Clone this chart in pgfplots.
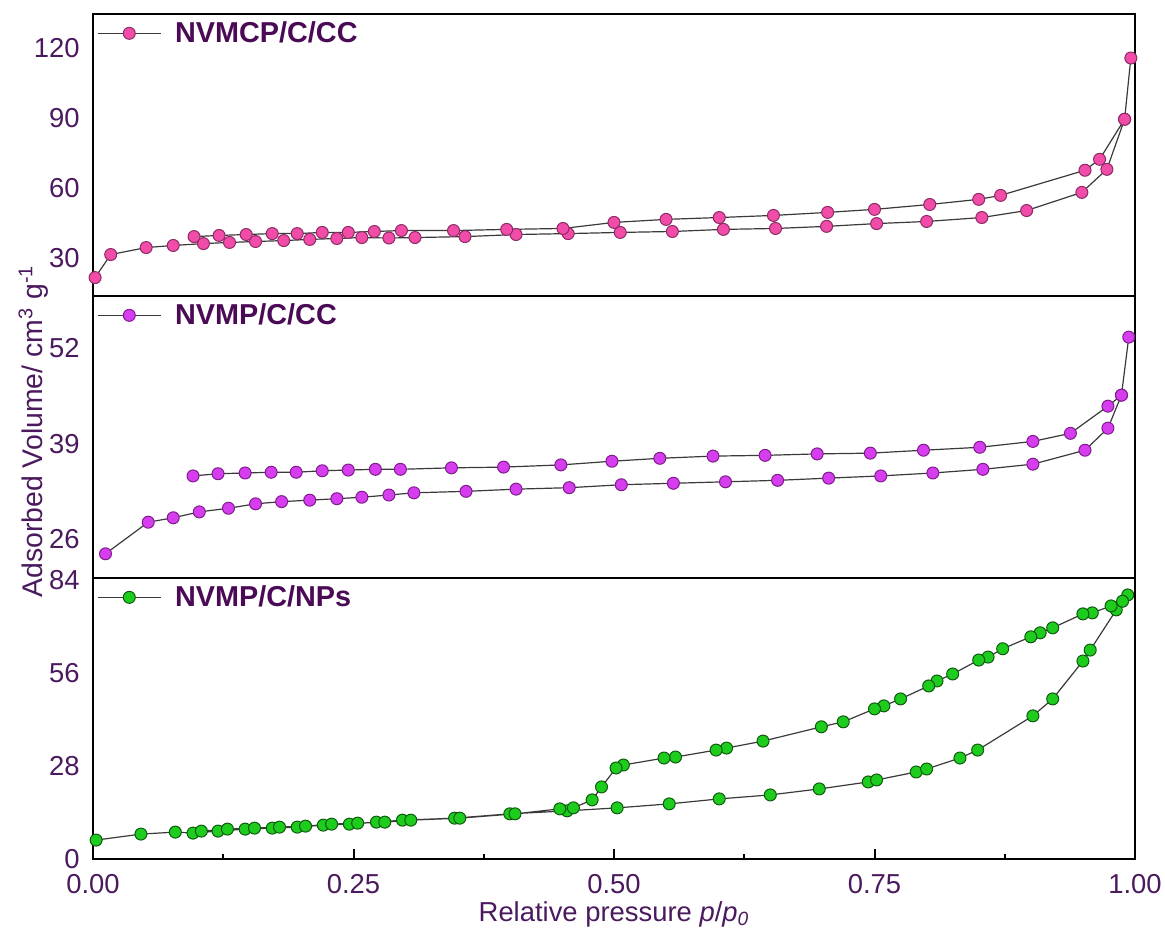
\documentclass[border=0pt]{standalone}
\usepackage{fontspec}
\setmainfont{Liberation Sans}
\usepackage{pgfplots}
\pgfplotsset{compat=1.18}
\definecolor{txt}{HTML}{4B1A5E}
\definecolor{lgd}{HTML}{4A0A56}
\definecolor{pinkf}{HTML}{F04CA8}
\definecolor{pinke}{HTML}{8E2A66}
\definecolor{magf}{HTML}{D53DEF}
\definecolor{mage}{HTML}{7F1E8A}
\definecolor{grnf}{HTML}{1ECC1E}
\definecolor{grne}{HTML}{0E5A0E}
\definecolor{ln}{HTML}{3A3A3A}
\pgfplotsset{
 panel/.style={
  scale only axis, width=521pt, xmin=0, xmax=1,
  axis line style={line width=1pt, black},
  clip=false,
  ytick style={draw=none},
  yticklabel style={font=\fontsize{13.7}{15}\selectfont, text=txt, anchor=east, inner sep=0pt, xshift=-6.5pt},
  /pgf/number format/assume math mode=true,
  legend style={at={(axis description cs:0,1)}, anchor=north west, xshift=2pt, yshift=-1.5pt, draw=none, fill=none,
    font=\fontsize{14.4}{16}\selectfont\bfseries, text=lgd, inner sep=0pt,
    /tikz/every odd column/.append style={column sep=5pt}},
  legend image code/.code={\draw[mark repeat=2,mark phase=2] plot coordinates {(0cm,0cm)(0.55cm,0cm)(1.1cm,0cm)};},
 },
 iso/.style={line width=0.6pt, color=ln, mark=*, mark size=3pt},
}
\begin{document}
\begin{tikzpicture}
\path[use as bounding box] (-46.5pt,-34.5pt) rectangle (536pt,429.5pt);
% ---------- top panel ----------
\begin{axis}[panel, at={(0pt,281.5pt)}, anchor=south west, height=141pt,
  ymin=13.5, ymax=134.6, ytick={30,60,90,120}, xtick=\empty]
\addplot[iso, mark options={fill=pinkf, draw=pinke, line width=0.5pt}] coordinates {
(0.002,21.4)(0.017,31.3)(0.051,34.3)(0.077,35.2)(0.106,36.0)(0.131,36.5)(0.156,36.9)
(0.183,37.3)(0.208,37.8)(0.234,38.2)(0.258,38.6)(0.284,38.4)(0.309,38.6)(0.357,39.0)
(0.406,39.9)(0.456,40.3)(0.506,40.8)(0.556,41.2)(0.605,42.1)(0.655,42.5)(0.704,43.4)
(0.752,44.6)(0.800,45.5)(0.853,47.2)(0.896,50.2)(0.949,58.0)(0.973,67.9)(0.990,89.4)
(0.996,115.7)(0.990,89.4)(0.966,72.2)(0.952,67.5)(0.871,56.7)(0.850,55.0)(0.803,52.8)(0.750,50.7)
(0.705,49.4)(0.653,48.1)(0.601,47.2)(0.550,46.4)(0.500,45.1)(0.451,42.5)(0.397,42.1)
(0.346,41.6)(0.296,41.6)(0.270,41.2)(0.245,40.8)(0.220,40.8)(0.196,40.3)(0.172,40.3)
(0.147,39.9)(0.121,39.5)(0.097,39.0)};
\addlegendentry{NVMCP/C/CC}
\end{axis}
% ---------- middle panel ----------
\begin{axis}[panel, at={(0pt,140.5pt)}, anchor=south west, height=141pt,
  ymin=20.7, ymax=59.1, ytick={26,39,52}, xtick=\empty,
  ylabel={Adsorbed Volume/ cm\textsuperscript{3} g\textsuperscript{-1}},
  ylabel style={at={(axis description cs:-0.072,0.52)}, anchor=north, inner sep=0pt,
    font=\fontsize{14.2}{16}\selectfont, text=txt}]
\addplot[iso, mark options={fill=magf, draw=mage, line width=0.5pt}] coordinates {
(0.012,24.0)(0.053,28.3)(0.077,28.9)(0.102,29.7)(0.130,30.2)(0.156,30.8)(0.181,31.1)
(0.208,31.3)(0.234,31.5)(0.258,31.7)(0.284,32.0)(0.308,32.3)(0.358,32.5)(0.406,32.8)
(0.457,33.0)(0.507,33.4)(0.557,33.6)(0.607,33.8)(0.657,34.0)(0.706,34.3)(0.756,34.6)
(0.806,35.0)(0.854,35.5)(0.902,36.2)(0.952,38.1)(0.974,41.1)(0.987,45.6)(0.994,53.5)
(0.987,45.6)(0.974,44.1)(0.938,40.4)(0.902,39.3)(0.851,38.5)(0.797,38.1)(0.746,37.7)(0.695,37.6)
(0.645,37.4)(0.595,37.3)(0.544,37.0)(0.498,36.6)(0.449,36.1)(0.394,35.8)(0.344,35.7)
(0.295,35.5)(0.271,35.5)(0.245,35.4)(0.220,35.3)(0.195,35.1)(0.171,35.1)(0.146,35.0)
(0.120,34.9)(0.096,34.6)};
\addlegendentry{NVMP/C/CC}
\end{axis}
% ---------- bottom panel ----------
\begin{axis}[panel, at={(0pt,0pt)}, anchor=south west, height=140.5pt,
  ymin=0, ymax=84.6, ytick={0,28,56,84},
  xtick={0,0.25,0.5,0.75,1}, minor x tick num=1, xtick pos=lower, tick align=inside,
  major tick length=5pt, minor tick length=2.5pt,
  xtick style={line width=1pt, black},
  xticklabel style={font=\fontsize{13.7}{15}\selectfont, text=txt, anchor=north, inner sep=0pt, yshift=-7.5pt,
    /pgf/number format/.cd, fixed, fixed zerofill, precision=2},
  xlabel={Relative pressure \textit{p}/\textit{p}\textsubscript{\textit{0}}},
  xlabel style={at={(axis description cs:0.5,0)}, anchor=north, yshift=-21pt, inner sep=0pt,
    font=\fontsize{13.7}{15}\selectfont, text=txt}]
\addplot[iso, mark options={fill=grnf, draw=grne, line width=0.5pt}] coordinates {
(0.003,5.7)(0.046,7.5)(0.079,8.1)(0.096,7.8)(0.120,8.4)(0.146,9.0)(0.172,9.3)(0.196,9.6)
(0.221,10.2)(0.246,10.5)(0.272,11.1)(0.297,11.7)(0.347,12.3)(0.400,13.6)(0.455,14.5)
(0.503,15.4)(0.553,16.6)(0.601,18.1)(0.650,19.3)(0.697,21.1)(0.744,23.2)(0.752,23.8)
(0.790,26.2)(0.800,27.1)(0.832,30.4)(0.849,32.8)(0.902,43.1)(0.921,48.2)(0.950,59.6)
(0.957,62.9)(0.982,75.0)(0.993,79.5)(0.988,77.6)(0.977,76.2)(0.959,74.1)(0.950,73.8)
(0.921,69.6)(0.909,68.1)(0.900,66.9)(0.873,63.3)(0.859,60.8)(0.850,59.9)(0.825,55.7)
(0.810,53.6)(0.802,52.1)(0.775,48.2)(0.759,46.1)(0.750,45.2)(0.720,41.3)(0.699,39.8)
(0.643,35.5)(0.608,33.4)(0.598,32.8)(0.559,30.7)(0.548,30.4)(0.509,28.3)(0.502,27.4)
(0.488,21.7)(0.479,17.8)(0.461,15.4)(0.448,15.1)(0.405,13.6)(0.352,12.3)(0.305,11.7)
(0.280,11.1)(0.254,10.8)(0.229,10.5)(0.204,9.9)(0.179,9.6)(0.155,9.3)(0.129,9.0)(0.104,8.4)};
\addlegendentry{NVMP/C/NPs}
\end{axis}
\end{tikzpicture}
\end{document}
